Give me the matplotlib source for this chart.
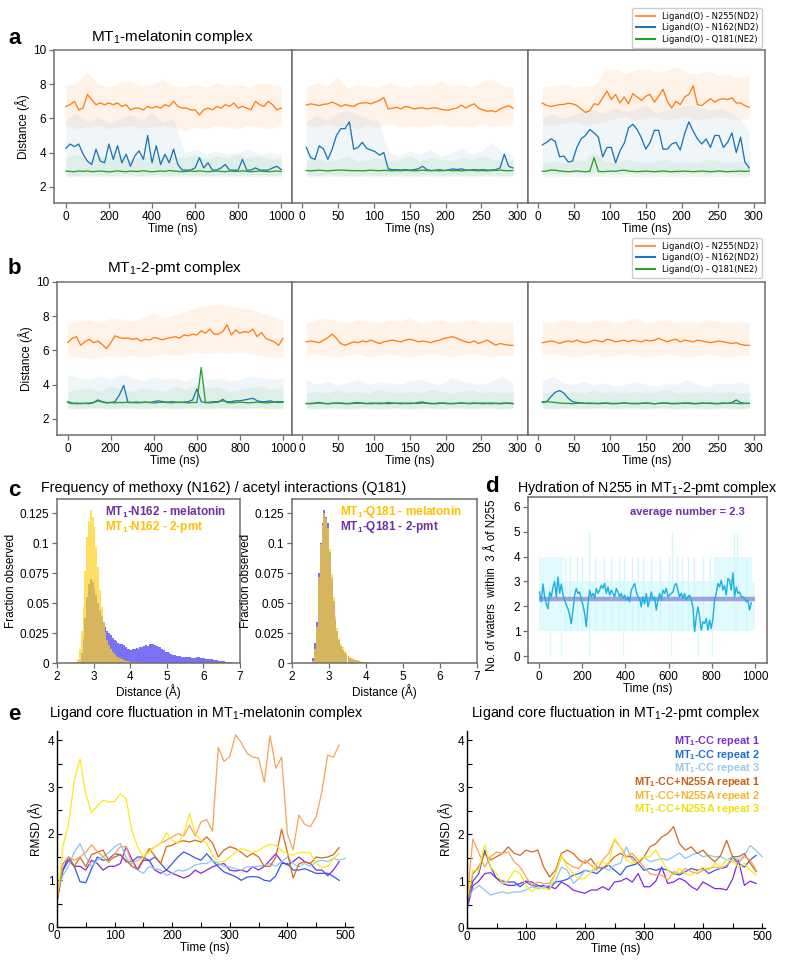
import numpy as np
import matplotlib
matplotlib.use('Agg')
import matplotlib.pyplot as plt
from matplotlib.lines import Line2D
from matplotlib.ticker import MultipleLocator

plt.rcParams['font.family'] = ['Liberation Sans', 'DejaVu Sans']
plt.rcParams['mathtext.default'] = 'regular'

W, H = 788, 960
fig = plt.figure(figsize=(W / 100, H / 100), dpi=100)

# ---------------- DATA ----------------
C_OR, C_BL, C_GR = '#ff7f0e', '#1f77b4', '#2ca02c'
legend_labels = ['Ligand(O) - N255(ND2)', 'Ligand(O) - N162(ND2)', 'Ligand(O) - Q181(NE2)']

# a: MT1-melatonin, run 1 (0-1000 ns)
a1_orange = [6.7,6.8,7.0,6.5,6.6,7.4,7.1,6.8,6.9,6.8,6.9,6.8,6.9,6.7,6.8,6.5,6.6,6.6,6.5,6.7,6.6,6.7,6.6,6.8,6.7,7.0,6.7,6.6,6.6,6.5,6.5,6.2,6.5,6.6,6.5,6.7,6.6,6.8,6.7,6.9,6.6,6.7,6.6,6.5,7.0,6.8,6.7,7.0,6.8,6.5,6.6]
a1_blue = [4.25,4.5,4.35,4.5,3.9,3.5,3.3,4.2,3.5,3.4,4.5,3.6,4.4,3.4,3.9,3.2,3.8,4.1,3.6,5.0,3.4,4.4,3.3,3.9,3.4,4.2,3.3,2.98,2.97,2.98,3.1,3.7,3.1,3.4,2.98,2.97,3.1,3.3,2.98,2.97,2.98,3.6,2.97,2.98,3.1,2.98,2.97,2.98,3.1,3.2,3.0]
a1_green = [2.92,2.9,2.88,2.92,2.9,2.93,2.88,2.9,2.92,2.9,2.87,2.9,2.93,2.9,2.88,2.92,2.9,2.9,2.94,2.9,2.88,2.9,2.92,2.9,2.95,2.92,2.9,2.88,2.9,2.92,2.9,2.93,2.9,2.88,2.9,2.92,2.9,2.88,2.92,2.9,2.9,2.93,2.9,2.88,2.9,2.92,2.9,2.88,2.9,2.92,2.9]
a1_orange_lo = [5.6,5.4,5.5,5.6,5.4,5.5,5.6,5.4,5.5,5.6,5.5,5.3,5.5,5.4,5.6,5.5,5.4,5.6,5.5,5.4,5.6]
a1_orange_hi = [7.9,8.1,8.7,8.0,7.8,8.1,8.2,7.9,8.0,8.3,7.9,7.8,8.0,7.8,8.1,7.9,8.0,7.8,8.1,8.0,7.9]
a1_blue_lo = [2.7,2.65,2.7,2.7,2.65,2.7,2.7,2.65,2.7,2.7,2.65,2.7,2.7,2.65,2.7,2.7,2.65,2.7,2.7,2.65,2.7]
a1_blue_hi = [5.9,6.3,5.8,6.1,5.7,6.0,6.2,5.9,6.4,5.8,6.0,4.0,4.2,3.9,4.1,3.9,4.0,4.2,3.9,4.0,3.9]
a1_green_lo = [2.55,2.6,2.55,2.6,2.55,2.6,2.55,2.6,2.55,2.6,2.55,2.6,2.55,2.6,2.55,2.6,2.55,2.6,2.55,2.6,2.55]
a1_green_hi = [3.7,3.9,3.6,3.8,3.7,3.9,3.6,3.8,3.7,3.9,3.8,3.7,3.9,3.6,3.8,3.7,3.9,3.7,3.8,3.6,3.7]

# a: run 2 (0-300 ns)
a2_orange = [6.78,6.85,6.8,6.75,6.82,6.85,6.95,6.85,6.7,6.8,6.75,6.7,6.85,6.9,6.92,6.85,6.95,7.05,7.22,6.55,6.6,6.65,6.55,6.7,6.65,6.55,6.6,6.62,6.55,6.6,6.62,6.55,6.5,6.48,6.55,6.6,6.78,6.6,6.75,6.85,6.6,6.5,6.42,6.45,6.38,6.55,6.65,6.75,6.6]
a2_blue = [4.3,3.7,3.6,4.4,4.2,3.6,4.2,5.0,5.4,5.4,5.8,4.2,4.3,4.6,4.25,4.15,4.05,3.85,4.0,3.05,3.0,3.0,2.98,3.0,2.97,3.0,3.05,3.2,3.0,2.95,2.97,3.0,2.95,2.98,3.05,3.0,3.05,2.98,2.97,3.0,2.98,3.0,2.97,2.98,3.0,3.1,3.9,3.2,3.1]
a2_green = [2.95,2.93,2.95,2.97,2.95,2.93,2.95,2.97,2.98,2.96,2.95,2.94,2.95,2.93,2.95,2.97,2.95,2.94,2.96,2.95,2.93,2.95,2.94,2.96,2.95,2.93,2.95,2.97,2.95,2.94,2.95,2.93,2.95,2.96,2.94,2.95,2.93,2.95,2.97,2.95,2.94,2.95,2.93,2.95,2.96,2.97,2.95,2.94,2.95]
a2_orange_lo = [5.6,5.5,5.7,5.5,5.6,5.4,5.6,5.5,5.7,5.5,5.6,5.5,5.6,5.7,5.5,5.6,5.5,5.7,5.5,5.6,5.6]
a2_orange_hi = [7.8,8.1,7.9,8.4,7.8,8.0,7.9,7.8,8.1,7.9,7.8,8.0,7.9,8.2,7.9,8.0,7.8,8.1,8.3,7.9,7.8]
a2_blue_lo = [2.7,2.65,2.7,2.7,2.65,2.7,2.7,2.65,2.7,2.7,2.65,2.7,2.7,2.65,2.7,2.7,2.65,2.7,2.7,2.65,2.7]
a2_blue_hi = [5.8,6.2,5.9,6.3,6.5,6.2,6.0,5.8,4.0,3.8,4.1,3.9,4.2,3.8,4.0,4.3,3.9,4.1,4.6,4.0,3.9]
a2_green_lo = [2.6,2.55,2.6,2.6,2.55,2.6,2.6,2.55,2.6,2.6,2.55,2.6,2.6,2.55,2.6,2.6,2.55,2.6,2.6,2.55,2.6]
a2_green_hi = [3.5,3.7,3.5,3.6,3.8,3.5,3.6,3.7,3.5,3.6,3.8,3.5,3.7,3.6,3.5,3.7,3.6,3.8,3.6,3.5,3.6]

# a: run 3 (0-300 ns)
a3_orange = [6.9,6.75,6.7,6.75,6.8,6.82,6.88,6.85,6.75,6.55,6.35,6.45,6.85,6.8,7.2,7.6,7.1,7.4,6.9,7.25,6.85,7.45,7.25,7.05,7.3,7.4,6.95,7.3,7.7,7.0,6.6,7.0,6.8,7.25,7.4,7.9,6.8,6.75,6.95,7.15,6.95,7.1,7.15,7.1,7.2,6.9,6.9,6.75,6.65]
a3_blue = [4.45,4.6,4.8,4.65,3.75,3.8,3.45,3.5,4.3,4.8,5.0,5.35,5.15,4.9,3.75,4.3,4.3,3.4,4.1,4.55,5.45,5.65,5.35,4.85,4.2,4.6,5.3,5.3,4.2,4.2,4.5,4.6,4.15,5.1,5.8,5.25,4.8,4.5,4.8,4.3,5.0,5.0,4.3,4.6,5.15,4.0,4.9,3.45,3.1]
a3_green = [2.9,2.92,2.98,2.97,2.92,2.9,2.88,2.9,2.92,2.9,2.88,2.9,3.7,2.9,2.88,2.9,2.92,2.9,2.95,2.97,2.92,2.9,2.88,2.9,2.92,2.9,2.88,2.9,2.92,2.9,2.88,2.9,2.9,2.92,2.9,2.88,2.9,2.92,2.9,2.88,2.9,2.92,2.9,2.88,2.9,2.9,2.92,2.9,2.92]
a3_orange_lo = [5.7,5.6,5.7,5.8,5.6,5.7,5.8,6.0,6.1,5.9,6.0,6.1,5.9,6.0,6.1,5.9,6.0,6.1,6.0,5.9,6.0]
a3_orange_hi = [7.8,7.9,8.0,7.8,7.9,7.9,8.8,8.9,8.6,8.8,8.9,8.7,8.8,9.0,8.7,8.6,8.8,8.5,8.6,8.4,8.5]
a3_blue_lo = [2.8,2.75,2.8,2.8,2.75,2.8,2.8,2.75,2.8,2.8,2.75,2.8,2.8,2.75,2.8,2.8,2.75,2.8,2.8,2.75,2.8]
a3_blue_hi = [6.0,6.3,6.0,6.2,6.4,6.5,6.3,6.6,6.4,6.5,6.8,6.3,6.5,6.6,6.8,6.7,6.5,6.6,6.4,6.0,5.2]
a3_green_lo = [2.6,2.55,2.6,2.6,2.55,2.6,2.6,2.55,2.6,2.6,2.55,2.6,2.6,2.55,2.6,2.6,2.55,2.6,2.6,2.55,2.6]
a3_green_hi = [3.4,3.5,3.4,3.6,3.5,4.0,3.5,3.4,3.6,3.5,3.4,3.5,3.6,3.4,3.5,3.4,3.6,3.5,3.4,3.5,3.5]

# b: MT1-2-pmt, run 1 (0-1000 ns)
b1_orange = [6.45,6.7,6.8,6.3,6.5,6.65,6.45,6.55,6.35,6.1,6.45,6.85,6.75,6.7,6.72,6.65,6.7,6.55,6.65,6.6,6.75,6.7,6.62,6.7,6.75,6.8,6.72,6.9,6.85,6.95,6.9,7.15,7.0,7.25,6.95,6.95,7.1,7.5,6.9,7.2,7.0,7.1,7.05,7.25,6.8,7.05,6.7,6.6,6.5,6.3,6.7]
b1_blue = [3.0,2.92,2.88,2.9,2.9,2.88,2.95,3.1,3.0,2.95,2.95,3.0,3.4,3.95,2.95,2.95,2.98,2.95,2.97,2.95,3.0,3.05,3.0,2.97,3.0,2.98,2.95,2.97,3.0,3.1,3.75,3.0,2.95,2.97,3.0,3.0,3.05,3.0,3.0,3.05,3.05,3.1,3.15,3.2,3.05,3.0,3.0,3.05,2.98,3.0,3.0]
b1_green = [2.95,2.88,2.92,2.88,2.9,2.92,2.95,3.05,2.98,2.92,2.95,2.93,2.95,2.95,2.97,2.95,2.93,2.95,2.97,2.95,2.93,2.95,2.97,2.95,2.93,2.95,2.97,2.95,2.93,2.95,2.95,5.0,2.95,2.93,2.95,2.97,3.15,2.95,2.93,2.95,2.97,2.95,2.93,2.95,2.97,2.95,2.93,2.95,2.97,2.95,2.97]
b1_orange_lo = [5.7,5.6,5.5,5.6,5.7,5.6,5.7,5.6,5.7,5.8,5.7,5.8,5.9,5.8,5.9,5.8,5.9,5.8,5.7,5.6,5.6]
b1_orange_hi = [7.6,7.7,7.8,7.6,7.9,7.8,7.7,7.9,8.2,7.9,8.1,8.3,8.5,8.6,8.7,8.6,8.5,8.4,8.2,8.0,7.8]
b1_blue_lo = [2.65,2.6,2.65,2.65,2.6,2.65,2.65,2.6,2.65,2.65,2.6,2.65,2.65,2.6,2.65,2.65,2.6,2.65,2.65,2.6,2.65]
b1_blue_hi = [4.6,4.4,4.3,4.5,4.3,4.6,4.4,4.2,4.5,4.3,4.4,4.2,4.5,4.3,4.4,4.2,4.3,4.5,4.4,4.3,4.4]
b1_green_lo = [2.6,2.55,2.6,2.6,2.55,2.6,2.6,2.55,2.6,2.6,2.55,2.6,2.6,2.55,2.6,2.6,2.55,2.6,2.6,2.55,2.6]
b1_green_hi = [3.6,3.7,3.8,3.6,3.9,3.7,3.6,3.8,3.7,3.6,3.9,3.7,4.0,3.8,3.9,3.6,3.7,3.8,3.9,3.7,3.8]

# b: run 2
b2_orange = [6.5,6.55,6.5,6.45,6.6,6.75,6.95,6.7,6.4,6.3,6.4,6.5,6.45,6.55,6.5,6.6,6.5,6.4,6.5,6.55,6.6,6.55,6.5,6.6,6.65,6.6,6.5,6.55,6.5,6.45,6.55,6.6,6.7,6.75,6.8,6.7,6.6,6.5,6.45,6.55,6.4,6.5,6.6,6.45,6.3,6.4,6.35,6.3,6.3]
b2_blue = [2.88,2.9,2.92,2.95,2.9,2.88,2.9,2.92,2.9,2.88,2.9,2.92,2.95,2.9,2.88,2.92,2.9,2.88,2.9,2.95,2.92,2.9,2.88,2.9,2.92,2.9,2.95,2.98,2.92,2.9,2.88,2.9,2.92,2.9,2.88,2.9,2.92,2.9,2.9,2.92,2.9,2.88,2.9,2.92,2.9,2.88,2.9,2.92,2.9]
b2_green = [2.9,2.88,2.9,2.92,2.9,2.88,2.9,2.9,2.92,2.9,2.88,2.9,2.9,2.92,2.9,2.88,2.9,2.92,2.9,2.88,2.9,2.9,2.92,2.9,2.88,2.9,2.9,2.92,2.9,2.88,2.9,2.92,2.9,2.88,2.9,2.9,2.92,2.9,2.88,2.9,2.9,2.92,2.9,2.88,2.9,2.9,2.92,2.9,2.88]
b2_orange_lo = [5.7,5.8,5.7,5.6,5.7,5.8,5.6,5.7,5.8,5.7,5.6,5.7,5.8,5.7,5.6,5.7,5.8,5.7,5.6,5.7,5.7]
b2_orange_hi = [7.6,7.8,7.9,7.7,7.6,7.8,7.7,7.6,7.8,7.7,7.9,7.6,7.7,7.8,7.6,7.7,7.8,7.6,7.7,7.6,7.7]
b2_blue_lo = [2.65,2.6,2.65,2.65,2.6,2.65,2.65,2.6,2.65,2.65,2.6,2.65,2.65,2.6,2.65,2.65,2.6,2.65,2.65,2.6,2.65]
b2_blue_hi = [4.3,4.0,4.2,4.0,4.1,4.3,4.0,4.2,4.1,4.0,4.2,4.3,4.1,4.0,4.4,4.2,4.1,4.0,4.2,4.5,4.1]
b2_green_lo = [2.6,2.55,2.6,2.6,2.55,2.6,2.6,2.55,2.6,2.6,2.55,2.6,2.6,2.55,2.6,2.6,2.55,2.6,2.6,2.55,2.6]
b2_green_hi = [3.5,3.6,3.5,3.7,3.5,3.6,3.5,3.7,3.6,3.5,3.6,3.5,3.7,3.6,3.5,3.6,3.7,3.5,3.6,3.5,3.6]

# b: run 3
b3_orange = [6.45,6.5,6.55,6.5,6.4,6.5,6.55,6.5,6.6,6.5,6.45,6.5,6.6,6.55,6.5,6.65,6.6,6.5,6.55,6.6,6.5,6.6,6.55,6.5,6.6,6.55,6.6,6.7,6.6,6.5,6.6,6.65,6.5,6.6,6.55,6.5,6.6,6.55,6.5,6.45,6.5,6.55,6.5,6.45,6.4,6.45,6.35,6.3,6.3]
b3_blue = [2.95,3.0,3.3,3.55,3.65,3.5,3.2,3.0,2.95,2.92,2.9,2.92,2.9,2.88,2.9,2.92,2.9,2.88,2.9,2.92,2.9,2.9,2.88,2.9,2.92,2.9,2.88,2.9,2.92,2.9,2.88,2.9,2.9,2.92,2.9,2.88,2.9,2.92,2.9,2.9,2.88,2.9,2.92,2.9,2.95,3.1,2.95,2.9,2.9]
b3_green = [3.0,3.0,2.98,2.95,2.92,2.9,2.9,2.88,2.9,2.92,2.9,2.88,2.9,2.9,2.92,2.9,2.88,2.9,2.9,2.92,2.9,2.88,2.9,2.9,2.92,2.9,2.88,2.9,2.9,2.92,2.9,2.88,2.9,2.9,2.92,2.9,2.88,2.9,2.9,2.92,2.9,2.88,2.9,2.9,2.92,2.9,2.88,2.9,2.9]
b3_orange_lo = [5.7,5.8,5.7,5.6,5.7,5.8,5.6,5.7,5.8,5.7,5.6,5.7,5.8,5.7,5.6,5.7,5.8,5.7,5.6,5.7,5.7]
b3_orange_hi = [7.7,7.6,7.8,7.7,7.6,7.7,7.8,7.6,7.7,7.9,7.6,7.7,7.8,7.6,7.7,7.6,7.8,7.7,7.6,7.7,7.6]
b3_blue_lo = [2.65,2.6,2.65,2.65,2.6,2.65,2.65,2.6,2.65,2.65,2.6,2.65,2.65,2.6,2.65,2.65,2.6,2.65,2.65,2.6,2.65]
b3_blue_hi = [4.2,4.5,4.1,4.0,4.2,4.0,4.1,3.9,4.0,4.2,4.0,3.9,4.1,4.0,4.3,4.0,3.9,4.1,4.0,4.2,4.0]
b3_green_lo = [2.6,2.55,2.6,2.6,2.55,2.6,2.6,2.55,2.6,2.6,2.55,2.6,2.6,2.55,2.6,2.6,2.55,2.6,2.6,2.55,2.6]
b3_green_hi = [3.5,3.6,3.5,3.6,3.5,3.7,3.5,3.6,3.5,3.6,3.5,3.6,3.7,3.5,3.6,3.5,3.6,3.5,3.6,3.5,3.5]

# c: histograms (bin width 0.05 A, first bin edge 2.50)
hist_bin = 0.05
n162_melatonin = [0.0,0.0005,0.002,0.008,0.02,0.038,0.055,0.066,0.070,0.068,0.063,0.057,0.050,0.044,0.039,0.034,0.030,0.027,0.025,0.023,0.021,0.019,0.018,0.017,0.016,0.0155,0.015,0.0135,0.012,0.0115,0.011,0.0115,0.012,0.0125,0.012,0.0135,0.0135,0.014,0.015,0.0145,0.0155,0.016,0.0155,0.015,0.014,0.0135,0.013,0.012,0.011,0.0095,0.0088,0.008,0.0075,0.007,0.0068,0.0062,0.006,0.0055,0.0053,0.005,0.005,0.0048,0.0047,0.0045,0.0044,0.0045,0.0046,0.0047,0.0045,0.0042,0.004,0.0037,0.0034,0.0031,0.003,0.0027,0.0024,0.0021,0.002,0.0017,0.0015,0.0013,0.001,0.0009,0.0007,0.0005,0.0004,0.0003,0.0002,0.0001]
n162_2pmt = [0.0005,0.003,0.012,0.027,0.047,0.077,0.105,0.119,0.128,0.122,0.114,0.097,0.080,0.061,0.047,0.034,0.026,0.019,0.015,0.012,0.0095,0.0075,0.006,0.005,0.004,0.0032,0.0026,0.002,0.0017,0.0013,0.001,0.0008,0.0006,0.0005,0.0004,0.0003,0.0002,0.0001]
q181_melatonin = [0.0003,0.002,0.012,0.03,0.072,0.099,0.115,0.125,0.121,0.113,0.095,0.074,0.055,0.039,0.029,0.021,0.016,0.013,0.010,0.008,0.0065,0.005,0.004,0.0033,0.0027,0.0022,0.0018,0.0015,0.0012,0.001,0.0008,0.0006,0.0005,0.0003,0.0002]
q181_2pmt = [0.0005,0.004,0.017,0.034,0.075,0.1,0.117,0.128,0.122,0.117,0.093,0.071,0.052,0.036,0.027,0.019,0.014,0.011,0.0085,0.007,0.0055,0.0045,0.0035,0.0028,0.0022,0.0018,0.0014,0.0011,0.0009,0.0007,0.0005,0.0004,0.0003,0.0002,0.0001]

# d: hydration of N255 (smoothed count, 3-983 ns)
d_waters = [2.58,2.18,2.9,2.38,2.1,1.9,2.58,2.38,2.78,3.0,2.38,3.18,2.52,2.9,2.45,2.25,2.05,1.9,1.65,1.3,1.85,2.45,2.72,2.52,2.58,2.25,2.05,1.71,1.18,2.1,2.65,2.38,2.52,2.32,2.72,2.52,2.65,2.85,2.72,2.92,2.52,2.78,2.45,2.65,2.52,2.38,2.72,2.58,2.38,2.52,2.32,2.45,2.25,2.38,2.18,2.65,2.78,2.92,2.58,2.38,2.32,1.98,2.38,2.1,2.52,1.98,2.25,2.58,2.25,2.38,1.85,2.25,2.52,2.25,2.65,2.52,2.72,2.38,2.45,2.52,2.58,2.85,2.92,2.65,2.38,2.52,2.32,2.52,2.25,2.38,2.45,2.25,1.98,0.98,1.58,1.98,1.58,1.04,1.38,1.31,1.51,1.04,1.45,1.11,1.51,2.25,2.52,2.92,2.78,3.05,2.65,2.85,2.45,3.12,3.05,2.65,3.35,2.38,2.78,2.52,2.58,2.38,2.38,2.32,2.18,2.25,1.85,2.15]
d_raw_lo = [1,1,1,1,1,1,1,1,1,1,1,1,1,1,1,1,1,1,1,1,1,1,1,1,1,1,1,1,1,1,1,1,1,1,1,1,1,1,1,1,1]
d_raw_hi = [4,4,4,4,4,3,3,3,3,3,3,3,3,3,3,3,3,3,3,3,3,3,3,3,3,3,3,3,3,3,3,3,3,4,4,4,4,4,4,4,3]
d_spike_t = [120,145,175,200,232,260,300,335,370,395,430,460,480,520,560,600,618,640,660,690,720,760,790,905,918,960]
d_spike_hi = [4,4,4,4,5,4,4,4,4,4,4,4,4,4,4,4,5,4,4,4,4,4,4,5,5,4]
d_dip_t = [50,102,230,390,612,735,800]
d_average = 2.3

# e: ligand core RMSD (10 ns sampling)
e_names = ['MT$_1$-CC repeat 1', 'MT$_1$-CC repeat 2', 'MT$_1$-CC repeat 3',
           'MT$_1$-CC+N255A repeat 1', 'MT$_1$-CC+N255A repeat 2', 'MT$_1$-CC+N255A repeat 3']
e_line_colors = ['#8427e3', '#3657ee', '#8fc5ef', '#d2691e', '#f2a55a', '#ffe81a']
e_text_colors = ['#7a2fd6', '#1f6fce', '#9cc7ef', '#c8601a', '#f7b32b', '#f0e010']
eL = [
    [0.55,1.22,1.5,1.3,1.3,1.22,1.43,1.36,1.22,1.3,1.3,1.36,1.72,1.45,1.22,1.43,1.43,1.22,1.15,1.22,1.15,1.1,1.05,1.1,1.22,1.15,1.22,1.29,1.33,1.36,1.22,1.2,1.22,1.18,1.29,1.22,1.3,1.43,1.57,1.4,1.33,1.4,1.5,1.4,1.36,1.22,1.22,1.1,1.22,1.4],
    [0.6,1.2,1.43,1.3,0.97,0.95,1.25,1.5,1.43,1.45,1.57,1.55,1.4,1.4,1.5,1.5,1.42,1.5,1.36,1.22,1.36,1.5,1.61,1.55,1.48,1.43,1.57,1.43,1.29,1.18,1.13,1.08,1.0,1.07,1.08,1.07,1.0,0.98,1.1,1.36,1.36,1.22,1.22,1.25,1.2,1.15,1.15,1.15,1.08,1.0],
    [0.7,1.1,1.3,1.6,1.79,1.5,1.3,1.43,1.5,1.6,1.72,1.79,1.5,1.3,1.22,1.15,1.3,1.25,1.22,1.1,1.15,1.22,1.2,1.25,1.33,1.36,1.36,1.43,1.36,1.3,1.29,1.25,1.22,1.29,1.29,1.3,1.32,1.36,1.3,1.4,1.5,1.36,1.29,1.36,1.3,1.4,1.43,1.4,1.47,1.43,1.47],
    [0.55,1.35,1.5,1.3,1.5,1.29,1.55,1.6,1.65,1.42,1.5,1.55,1.43,1.3,1.25,1.45,1.68,1.52,1.36,1.72,1.75,1.82,1.85,1.82,1.86,1.82,1.93,1.8,1.5,1.65,1.72,1.68,1.6,1.5,1.58,1.5,1.3,1.3,1.5,2.1,1.6,1.05,1.35,1.4,1.36,1.5,1.48,1.5,1.55,1.7],
    [0.6,1.35,1.5,1.43,1.5,1.6,1.76,1.62,1.5,1.38,1.57,1.72,1.72,1.36,1.43,1.5,1.64,1.72,1.79,1.86,1.93,2.0,1.95,2.18,1.95,2.25,2.3,2.05,3.85,3.55,3.65,4.12,3.95,3.72,3.64,3.62,3.1,4.1,3.4,3.64,2.0,1.65,2.4,2.2,2.15,2.36,2.9,3.68,3.64,3.9],
    [0.55,1.72,2.2,3.14,3.6,2.85,2.44,2.6,2.72,2.68,2.69,2.86,2.75,2.07,1.72,1.5,1.6,1.72,1.79,2.02,1.86,1.79,2.0,2.43,2.0,1.86,1.79,1.54,1.4,1.4,1.5,1.6,1.68,1.64,1.6,1.64,1.72,1.77,1.75,1.64,1.57,1.54,1.59,1.6,1.59,1.37,1.27,1.3,1.47,1.57],
]
eR = [
    [0.4,0.9,1.0,1.16,1.18,1.06,0.95,0.91,0.91,0.95,1.0,0.98,0.91,0.88,0.88,0.84,0.98,0.91,0.81,0.77,0.74,0.81,0.81,0.88,0.81,0.98,1.0,1.06,0.98,1.16,0.88,0.88,1.0,1.3,0.95,0.98,1.06,1.0,0.88,0.81,0.98,0.91,0.84,0.84,0.81,1.04,1.45,0.91,1.0,0.95],
    [0.5,1.0,1.16,1.66,1.3,1.06,1.0,0.98,0.98,0.88,0.98,0.91,0.88,0.91,0.84,0.98,1.0,1.04,1.13,1.16,1.23,1.2,1.16,1.27,1.34,1.23,1.13,1.3,1.34,1.38,1.23,1.27,1.23,1.27,1.23,1.16,1.13,1.2,1.27,1.23,1.27,1.16,1.23,1.27,1.3,1.52,1.38,1.3,1.45,1.55],
    [0.6,0.81,0.91,0.81,0.7,0.74,0.77,0.74,0.77,0.77,0.81,0.88,0.84,0.88,0.91,1.0,1.3,1.23,0.95,1.06,1.23,1.2,1.27,1.3,1.23,1.34,1.38,1.73,1.45,1.38,1.52,1.41,1.45,1.48,1.45,1.52,1.6,1.48,1.55,1.6,1.52,1.55,1.52,1.52,1.45,1.52,1.45,1.55,1.76,1.65,1.52],
    [0.5,1.16,1.3,1.59,1.45,1.52,1.59,1.73,1.59,1.55,1.66,1.62,1.66,1.3,1.09,1.23,1.59,1.66,1.59,1.45,1.38,1.48,1.3,1.27,1.38,1.52,1.59,1.52,1.52,1.38,1.52,1.73,1.8,1.94,2.01,2.16,1.8,1.66,1.73,1.59,1.66,1.52,1.41,1.55,1.87,1.52,1.52,1.59,1.38,1.2],
    [0.6,1.9,1.6,1.3,1.52,1.62,1.59,1.62,1.41,1.3,1.09,0.91,0.98,0.95,0.95,1.16,1.52,1.38,1.3,1.27,1.45,1.34,1.23,1.45,1.59,1.87,1.73,1.52,1.59,1.45,1.3,1.16,1.13,1.13,1.02,1.2,1.16,1.27,1.2,1.16,1.23,1.27,1.3,1.27,1.34,1.45,1.38,1.52,1.45,1.23],
    [0.6,1.23,1.23,1.77,1.3,1.16,0.95,1.02,1.23,1.16,0.91,0.77,0.88,0.84,0.81,1.16,1.55,1.3,1.16,1.04,1.06,1.2,1.38,1.41,1.34,1.91,1.73,1.45,1.38,1.45,1.52,1.52,1.66,1.45,1.23,1.13,1.27,1.16,1.13,1.2,1.3,1.23,1.38,1.3,1.46,1.43,1.3,1.38,1.23,1.13],
]

# ---------------- HELPERS ----------------
SPINE = '#6e6e6e'

def ax_px(l, t, r, b):
    return fig.add_axes([l / W, 1 - b / H, (r - l) / W, (b - t) / H])

def ftext(x, y, s, **kw):
    return fig.text(x / W, 1 - y / H, s, **kw)

def box_style(ax):
    for s in ax.spines.values():
        s.set_color(SPINE)
        s.set_linewidth(1.1)
    ax.tick_params(labelsize=8.5, length=3.5, width=0.9, color=SPINE, pad=2)

def dist_axes(ax, t0, t1, lines, bands, xlim, xticks, first):
    t_band = np.linspace(t0, t1, len(bands[0][0]))
    for (lo, hi), c, a in zip(bands, [C_OR, C_BL, C_GR], [0.09, 0.07, 0.08]):
        ax.fill_between(t_band, lo, hi, color=c, alpha=a, lw=0)
    for y, c in zip(lines, [C_OR, C_BL, C_GR]):
        ax.plot(np.linspace(t0, t1, len(y)), y, color=c, lw=0.95)
    ax.set_xlim(*xlim)
    ax.set_ylim(1.05, 10)
    ax.set_xticks(xticks)
    box_style(ax)
    ax.set_xlabel('Time (ns)', fontsize=8.5, labelpad=0)
    if first:
        ax.set_yticks([2, 4, 6, 8, 10])
        ax.set_ylabel('Distance (Å)', fontsize=8.5, labelpad=2)
    else:
        ax.set_yticks([])

# ---------------- PANEL a ----------------
ax = ax_px(54, 50, 292, 203)
dist_axes(ax, 0, 1000, [a1_orange, a1_blue, a1_green],
          [(a1_orange_lo, a1_orange_hi), (a1_blue_lo, a1_blue_hi), (a1_green_lo, a1_green_hi)],
          (-55, 1050), [0, 200, 400, 600, 800, 1000], True)
ax = ax_px(292, 50, 528, 203)
dist_axes(ax, 6, 294, [a2_orange, a2_blue, a2_green],
          [(a2_orange_lo, a2_orange_hi), (a2_blue_lo, a2_blue_hi), (a2_green_lo, a2_green_hi)],
          (-14, 315), [0, 50, 100, 150, 200, 250, 300], False)
ax = ax_px(528, 50, 765, 203)
dist_axes(ax, 6, 294, [a3_orange, a3_blue, a3_green],
          [(a3_orange_lo, a3_orange_hi), (a3_blue_lo, a3_blue_hi), (a3_green_lo, a3_green_hi)],
          (-14, 316), [0, 50, 100, 150, 200, 250, 300], False)

# ---------------- PANEL b ----------------
ax = ax_px(57, 282, 292, 435)
dist_axes(ax, 0, 1000, [b1_orange, b1_blue, b1_green],
          [(b1_orange_lo, b1_orange_hi), (b1_blue_lo, b1_blue_hi), (b1_green_lo, b1_green_hi)],
          (-50, 1042), [0, 200, 400, 600, 800, 1000], True)
ax = ax_px(292, 282, 528, 435)
dist_axes(ax, 6, 294, [b2_orange, b2_blue, b2_green],
          [(b2_orange_lo, b2_orange_hi), (b2_blue_lo, b2_blue_hi), (b2_green_lo, b2_green_hi)],
          (-14, 315), [0, 50, 100, 150, 200, 250, 300], False)
ax = ax_px(528, 282, 765, 435)
dist_axes(ax, 6, 294, [b3_orange, b3_blue, b3_green],
          [(b3_orange_lo, b3_orange_hi), (b3_blue_lo, b3_blue_hi), (b3_green_lo, b3_green_hi)],
          (-14, 316), [0, 50, 100, 150, 200, 250, 300], False)

handles = [Line2D([], [], color=c, lw=1.5) for c in ['#fb9a4e', C_BL, C_GR]]
for ytop in (4, 234):
    fig.legend(handles, legend_labels, loc='upper right',
               bbox_to_anchor=(766 / W, 1 - ytop / H),
               prop={'family': 'DejaVu Sans', 'size': 6.0},
               handlelength=2.3, borderpad=0.45, labelspacing=0.3, framealpha=1,
               edgecolor='#cccccc')

# ---------------- PANEL c ----------------
PURPLE_T = '#7030a0'
GOLD_T = '#ffc000'
C_MEL = '#6b63f2'
C_PMT = '#ffd21f'

def hist_axes(ax, first_set, second_set):
    for vals, c, a in [first_set, second_set]:
        edges = 2.5 + hist_bin * np.arange(len(vals))
        ax.bar(edges, vals, width=hist_bin, align='edge', color=c, alpha=a, lw=0)
    ax.set_xlim(2, 7)
    ax.set_ylim(0, 0.137)
    ax.set_xticks([2, 3, 4, 5, 6, 7])
    ax.set_yticks([0, 0.025, 0.05, 0.075, 0.1, 0.125])
    ax.set_yticklabels(['0', '0.025', '0.05', '0.075', '0.1', '0.125'])
    box_style(ax)
    ax.set_xlabel('Distance (Å)', fontsize=8.5, labelpad=1)
    ax.set_ylabel('Fraction observed', fontsize=8.5, labelpad=2)

ax = ax_px(57, 499, 240, 663)
hist_axes(ax, (n162_melatonin, C_MEL, 0.9), (n162_2pmt, C_PMT, 0.7))
ax = ax_px(292, 499, 477, 663)
hist_axes(ax, (q181_2pmt, C_MEL, 0.9), (q181_melatonin, C_PMT, 0.7))

ftext(105, 512, 'MT$_1$-N162 - melatonin', color=PURPLE_T, fontsize=8.5, fontweight='bold', va='center')
ftext(105, 527, 'MT$_1$-N162 - 2-pmt', color=GOLD_T, fontsize=8.5, fontweight='bold', va='center')
ftext(340, 512, 'MT$_1$-Q181 - melatonin', color=GOLD_T, fontsize=8.5, fontweight='bold', va='center')
ftext(340, 527, 'MT$_1$-Q181 - 2-pmt', color=PURPLE_T, fontsize=8.5, fontweight='bold', va='center')

# ---------------- PANEL d ----------------
ax = ax_px(528, 497, 767, 663)
t_raw = np.linspace(0, 1000, len(d_raw_hi))
ax.fill_between(t_raw, d_raw_lo, d_raw_hi, step='mid', color='#e0fafd', lw=0)
ax.vlines(d_spike_t, 1, d_spike_hi, color='#d2f6fb', lw=1.0)
ax.vlines(d_dip_t, 0, 1, color='#dcf8fc', lw=1.0)
ax.plot([0, 1000], [d_average, d_average], color='#8c8cd4', lw=3.2, alpha=0.8, solid_capstyle='butt')
ax.plot(np.linspace(3, 983, len(d_waters)), d_waters, color='#1aafe6', lw=1.0)
ax.set_xlim(-51, 1056)
ax.set_ylim(-0.28, 6.4)
ax.set_xticks([0, 200, 400, 600, 800, 1000])
ax.set_yticks([0, 1, 2, 3, 4, 5, 6])
box_style(ax)
ax.set_xlabel('Time (ns)', fontsize=8.5, labelpad=0)
ax.set_ylabel('No. of waters  within  3 Å of N255', fontsize=8.3)
ax.yaxis.set_label_coords(-0.125, 0.47)
ftext(630, 512, 'average number = %.1f' % d_average, color=PURPLE_T, fontsize=8, fontweight='bold', va='center')

# ---------------- PANEL e ----------------
def rmsd_axes(ax, data, xmax):
    for y, c in zip(data, e_line_colors):
        ax.plot(10 * np.arange(len(y)), y, color=c, lw=0.9)
    ax.set_xlim(0, xmax)
    ax.set_ylim(0, 4.2)
    ax.spines['top'].set_visible(False)
    ax.spines['right'].set_visible(False)
    for s in ('left', 'bottom'):
        ax.spines[s].set_linewidth(1.0)
    ax.set_xticks([0, 100, 200, 300, 400, 500])
    ax.set_yticks([0, 1, 2, 3, 4])
    ax.xaxis.set_minor_locator(MultipleLocator(50))
    ax.yaxis.set_minor_locator(MultipleLocator(0.5))
    ax.tick_params(which='both', labelsize=8.5, direction='in', width=0.8, pad=2, length=3.5)
    ax.set_xlabel('Time (ns)', fontsize=8.5, labelpad=0)
    ax.set_ylabel('RMSD (Å)', fontsize=8.5, labelpad=3)

ax = ax_px(57, 731, 353, 927)
rmsd_axes(ax, eL, 514)
ax = ax_px(467, 731, 765, 928)
rmsd_axes(ax, eR, 505)
for i, (name, c) in enumerate(zip(e_names, e_text_colors)):
    ftext(760, 741 + 13.7 * i, name, color=c, fontsize=7.8, fontweight='bold', ha='right', va='center')

# ---------------- TITLES / LETTERS ----------------
for letter, x, y in [('a', 8, 44), ('b', 8, 274), ('c', 8, 496), ('d', 485, 492), ('e', 8, 720)]:
    ftext(x, y, letter, fontsize=16, fontweight='bold', va='baseline')
ftext(172, 37, 'MT$_1$-melatonin complex', fontsize=11, ha='center', va='center')
ftext(175, 268, 'MT$_1$-2-pmt complex', fontsize=11, ha='center', va='center')
ftext(224, 488, 'Frequency of methoxy (N162) / acetyl interactions (Q181)', fontsize=10.3, ha='center', va='center')
ftext(647, 488, 'Hydration of N255 in MT$_1$-2-pmt complex', fontsize=10.3, ha='center', va='center')
ftext(206, 713, 'Ligand core fluctuation in MT$_1$-melatonin complex', fontsize=10.3, ha='center', va='center')
ftext(616, 713, 'Ligand core fluctuation in MT$_1$-2-pmt complex', fontsize=10.3, ha='center', va='center')

fig.savefig('out.png', dpi=100)
